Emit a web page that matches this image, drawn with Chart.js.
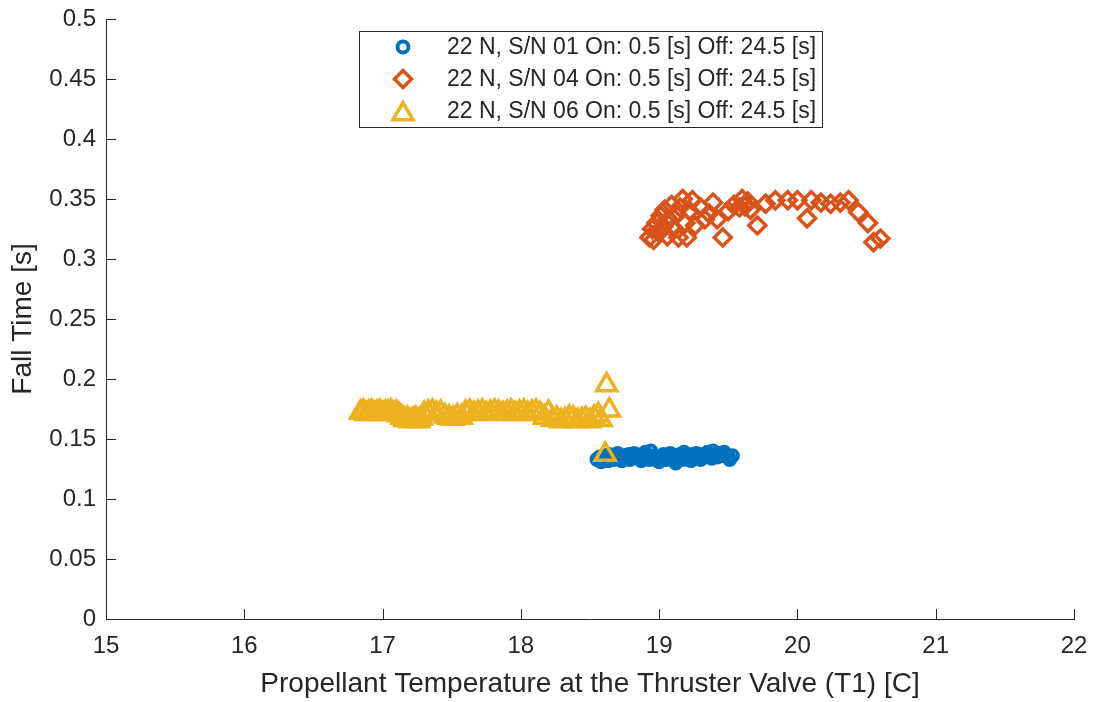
<!DOCTYPE html>
<html>
<head>
<meta charset="utf-8">
<script src="https://cdn.jsdelivr.net/npm/chart.js@4.4.0/dist/chart.umd.min.js"></script>
<style>
  html, body { margin: 0; padding: 0; background: #fff; }
  #wrap { width: 1093px; height: 702px; }
</style>
</head>
<body>
<div id="wrap"><canvas id="c"></canvas></div>
<script>
// axis ticks
const xTicks = [15, 16, 17, 18, 19, 20, 21, 22]
const yTicks = [0, 0.05, 0.1, 0.15, 0.2, 0.25, 0.3, 0.35, 0.4, 0.45, 0.5]

const seriesLabels = [
  '22 N, S/N 01 On: 0.5 [s] Off: 24.5 [s]',
  '22 N, S/N 04 On: 0.5 [s] Off: 24.5 [s]',
  '22 N, S/N 06 On: 0.5 [s] Off: 24.5 [s]',
]

// S/N 01
const sn01Temp = [18.55, 18.57, 18.58, 18.6, 18.61, 18.63, 18.64, 18.66, 18.67, 18.69, 18.7, 18.72, 18.73, 18.75, 18.76, 18.78, 18.79, 18.81, 18.82, 18.84, 18.85, 18.87, 18.88, 18.9, 18.91, 18.93, 18.94, 18.96, 18.97, 18.99, 19.0, 19.02, 19.03, 19.05, 19.06, 19.08, 19.09, 19.11, 19.12, 19.14, 19.15, 19.17, 19.18, 19.2, 19.21, 19.23, 19.24, 19.26, 19.27, 19.29, 19.3, 19.32, 19.33, 19.35, 19.36, 19.38, 19.39, 19.41, 19.42, 19.44, 19.45, 19.47, 19.48, 19.5, 19.51, 19.53]
const sn01Fall = [0.133, 0.135, 0.131, 0.136, 0.134, 0.132, 0.137, 0.135, 0.133, 0.136, 0.138, 0.134, 0.132, 0.136, 0.135, 0.137, 0.133, 0.135, 0.138, 0.136, 0.134, 0.132, 0.137, 0.139, 0.135, 0.133, 0.14, 0.136, 0.134, 0.132, 0.131, 0.135, 0.137, 0.133, 0.136, 0.138, 0.134, 0.132, 0.13, 0.135, 0.137, 0.133, 0.139, 0.136, 0.134, 0.132, 0.137, 0.135, 0.138, 0.136, 0.133, 0.137, 0.135, 0.139, 0.136, 0.134, 0.14, 0.137, 0.135, 0.138, 0.136, 0.139, 0.137, 0.135, 0.133, 0.136]

// S/N 04
const sn04Temp = [18.93, 18.95, 18.96, 18.98, 19.0, 19.01, 19.03, 19.04, 19.06, 19.07, 19.09, 19.1, 19.12, 19.14, 19.15, 19.17, 19.19, 19.2, 19.22, 19.24, 19.26, 19.3, 19.33, 19.36, 19.39, 19.42, 19.46, 19.5, 19.54, 19.58, 19.6, 19.62, 19.64, 19.66, 19.71, 19.77, 19.84, 19.93, 20.0, 20.07, 20.1, 20.17, 20.24, 20.31, 20.37, 20.44, 20.51, 20.55, 20.6]
const sn04Fall = [0.318, 0.325, 0.316, 0.33, 0.322, 0.336, 0.327, 0.341, 0.319, 0.333, 0.345, 0.325, 0.337, 0.318, 0.343, 0.35, 0.33, 0.318, 0.34, 0.349, 0.328, 0.343, 0.333, 0.338, 0.347, 0.333, 0.318, 0.34, 0.345, 0.343, 0.35, 0.344, 0.348, 0.341, 0.328, 0.346, 0.349, 0.349, 0.349, 0.334, 0.349, 0.347, 0.346, 0.347, 0.349, 0.339, 0.33, 0.314, 0.317]

// S/N 06
const sn06Temp = [16.84, 16.86, 16.88, 16.9, 16.92, 16.94, 16.96, 16.98, 17.0, 17.02, 17.04, 17.06, 17.08, 17.1, 17.12, 17.14, 17.16, 17.18, 17.2, 17.22, 17.24, 17.26, 17.28, 17.3, 17.33, 17.36, 17.39, 17.42, 17.45, 17.48, 17.51, 17.54, 17.57, 17.6, 17.63, 17.66, 17.69, 17.72, 17.75, 17.78, 17.81, 17.84, 17.87, 17.9, 17.93, 17.96, 17.99, 18.02, 18.05, 18.08, 18.11, 18.14, 18.17, 18.2, 18.23, 18.26, 18.29, 18.32, 18.35, 18.38, 18.41, 18.44, 18.47, 18.5, 18.53, 18.56, 18.58, 18.61, 18.62, 18.64]
const sn06Fall = [0.172, 0.173, 0.171, 0.172, 0.173, 0.171, 0.172, 0.173, 0.171, 0.172, 0.172, 0.173, 0.171, 0.172, 0.17, 0.168, 0.166, 0.167, 0.165, 0.166, 0.167, 0.165, 0.167, 0.171, 0.172, 0.173, 0.171, 0.172, 0.169, 0.168, 0.167, 0.169, 0.168, 0.172, 0.173, 0.171, 0.172, 0.173, 0.171, 0.172, 0.173, 0.172, 0.171, 0.172, 0.173, 0.171, 0.172, 0.173, 0.171, 0.172, 0.173, 0.171, 0.168, 0.172, 0.166, 0.167, 0.165, 0.166, 0.168, 0.167, 0.165, 0.166, 0.167, 0.165, 0.168, 0.17, 0.166, 0.137, 0.195, 0.174]

const toPoints = (xs, ys) => xs.map((x, i) => ({ x: x, y: ys[i] }))

const axisColor = '#262626'
const fontFamily = '"Liberation Sans", Arial, Helvetica, sans-serif'

// inward ticks, matlab style
const tickPlugin = {
  id: 'inTicks',
  afterDraw(chart) {
    const { ctx, chartArea: a, scales } = chart
    const len = 10
    ctx.save()
    ctx.strokeStyle = axisColor
    ctx.lineWidth = 1
    ctx.beginPath()
    xTicks.forEach((t) => {
      const px = Math.round(scales.x.getPixelForValue(t)) + 0.5
      ctx.moveTo(px, a.bottom); ctx.lineTo(px, a.bottom - len)
    })
    yTicks.forEach((t) => {
      const py = Math.round(scales.y.getPixelForValue(t)) + 0.5
      ctx.moveTo(a.left, py); ctx.lineTo(a.left + len, py)
    })
    ctx.stroke()
    ctx.restore()
  },
}

// legend drawn inside the plot
const legendPlugin = {
  id: 'insideLegend',
  afterDraw(chart) {
    const { ctx } = chart
    const box = { x: 359.5, y: 31.5, w: 463, h: 96 }
    ctx.save()
    ctx.fillStyle = '#fff'
    ctx.fillRect(box.x, box.y, box.w, box.h)
    ctx.strokeStyle = axisColor
    ctx.lineWidth = 1
    ctx.strokeRect(box.x, box.y, box.w, box.h)
    ctx.font = '23px ' + fontFamily
    ctx.textBaseline = 'middle'
    chart.data.datasets.forEach((ds, i) => {
      const cy = 47 + i * 32
      ctx.fillStyle = 'rgba(0,0,0,0)'
      ctx.strokeStyle = ds.borderColor
      ctx.lineWidth = ds.borderWidth
      Chart.helpers.drawPoint(ctx, {
        pointStyle: ds.pointStyle,
        radius: ds.pointRadius,
        borderWidth: ds.borderWidth,
      }, 403, cy + (ds.pointStyle === 'triangle' ? 3 : 0))
      ctx.fillStyle = axisColor
      ctx.fillText(ds.label, 447, cy + 1)
    })
    ctx.restore()
  },
}

new Chart(document.getElementById('c'), {
  type: 'scatter',
  plugins: [tickPlugin, legendPlugin],
  data: {
    datasets: [
      {
        label: seriesLabels[0],
        data: toPoints(sn01Temp, sn01Fall),
        pointStyle: 'circle',
        pointRadius: 5.5,
        borderWidth: 4,
        borderColor: '#0072BD',
        backgroundColor: 'rgba(0,0,0,0)',
        order: 3,
      },
      {
        label: seriesLabels[1],
        data: toPoints(sn04Temp, sn04Fall),
        pointStyle: 'rectRot',
        pointRadius: 8.5,
        borderWidth: 3.5,
        borderColor: '#D95319',
        backgroundColor: 'rgba(0,0,0,0)',
        order: 2,
      },
      {
        label: seriesLabels[2],
        data: toPoints(sn06Temp, sn06Fall),
        pointStyle: 'triangle',
        pointRadius: 11.5,
        borderWidth: 3.5,
        borderColor: '#EDB120',
        backgroundColor: 'rgba(0,0,0,0)',
        order: 1,
      },
    ],
  },
  options: {
    responsive: true,
    maintainAspectRatio: false,
    animation: false,
    layout: { padding: { left: 0, top: 19, right: 19, bottom: 0 } },
    plugins: {
      legend: { display: false },
      tooltip: { enabled: false },
    },
    scales: {
      x: {
        type: 'linear',
        min: 15,
        max: 22,
        afterBuildTicks: (scale) => { scale.ticks = xTicks.map((v) => ({ value: v })) },
        afterFit: (scale) => {
          scale.height = 83
          scale.paddingLeft = 0
          scale.paddingRight = 0
        },
        grid: { display: false, drawTicks: false },
        border: { display: true, color: axisColor },
        ticks: { color: axisColor, padding: 13, font: { family: fontFamily, size: 24 } },
        title: {
          display: true,
          text: 'Propellant Temperature at the Thruster Valve (T1) [C]',
          color: axisColor,
          padding: { top: 0, bottom: 1 },
          font: { family: fontFamily, size: 28 },
        },
      },
      y: {
        type: 'linear',
        min: 0,
        max: 0.5,
        afterBuildTicks: (scale) => { scale.ticks = yTicks.map((v) => ({ value: v })) },
        afterFit: (scale) => {
          scale.width = 106
          scale.paddingTop = 0
          scale.paddingBottom = 0
        },
        grid: { display: false, drawTicks: false },
        border: { display: true, color: axisColor },
        ticks: {
          color: axisColor,
          padding: 10,
          font: { family: fontFamily, size: 24 },
          callback: (v) => String(v),
        },
        title: {
          display: true,
          text: 'Fall Time [s]',
          color: axisColor,
          padding: { top: 6, bottom: 0 },
          font: { family: fontFamily, size: 28 },
        },
      },
    },
  },
})
</script>
</body>
</html>
